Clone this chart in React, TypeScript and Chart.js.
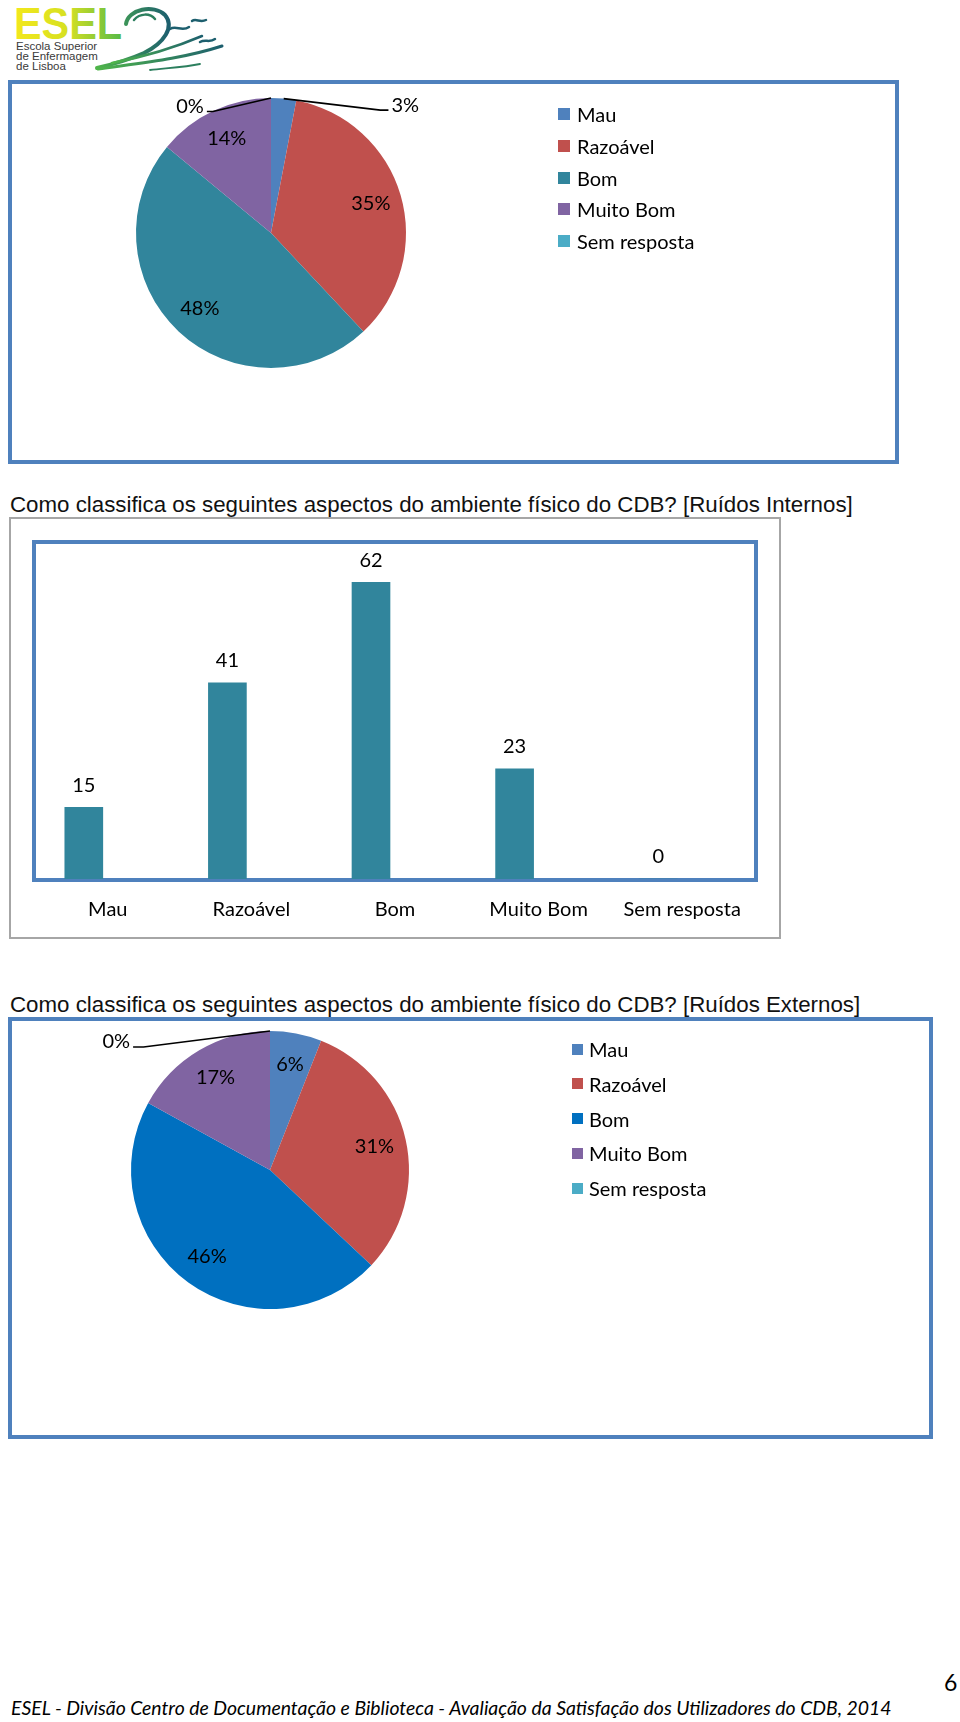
import React, { useEffect, useRef } from "react";
import { Chart, registerables } from "chart.js";

Chart.register(...registerables);

// ---------- data ----------
const categories = ["Mau", "Razoável", "Bom", "Muito Bom", "Sem resposta"];

const pie1Values = [3, 35, 48, 14, 0];
const pie1Colors = ["#4F81BD", "#C0504D", "#31859C", "#8064A2", "#4BACC6"];

const barValues = [15, 41, 62, 23, 0];
const barColor = "#31859C";
const barMax = 70;

const pie2Values = [6, 31, 46, 17, 0];
const pie2Colors = ["#4F81BD", "#C0504D", "#0070C0", "#8064A2", "#4BACC6"];

const heading1 =
  "Como classifica os seguintes aspectos do ambiente físico do CDB? [Ruídos Internos]";
const heading2 =
  "Como classifica os seguintes aspectos do ambiente físico do CDB? [Ruídos Externos]";
const footerText =
  "ESEL - Divisão Centro de Documentação e Biblioteca - Avaliação da Satisfação dos Utilizadores do CDB, 2014";
const pageNumber = "6";

const CAL = "Lato, 'Open Sans', sans-serif";
const ARIAL = "'Liberation Sans', Arial, sans-serif";
const FRAME = "#4F81BD";
const TXT = 20;

// ---------- plugins ----------
const pieLabelPlugin = {
  id: "pieLabels",
  afterDatasetsDraw(chart: any, _args: any, opts: any) {
    const ctx = chart.ctx;
    const meta = chart.getDatasetMeta(0);
    const data = chart.data.datasets[0].data;
    ctx.save();
    ctx.font = opts.font;
    ctx.fillStyle = "#000";
    meta.data.forEach((arc: any, i: number) => {
      const p = arc.getProps(["x", "y", "startAngle", "endAngle", "outerRadius"], true);
      const text = data[i] + "%";
      const mid = (p.startAngle + p.endAngle) / 2;
      const out = opts.outside && opts.outside[i];
      if (out) {
        const ax = p.x + Math.cos(mid) * p.outerRadius;
        const ay = p.y + Math.sin(mid) * p.outerRadius;
        const ex = p.x + out.dx * p.outerRadius;
        const ey = p.y + out.dy * p.outerRadius;
        const hx = p.x + out.hx * p.outerRadius;
        ctx.beginPath();
        ctx.moveTo(ax, ay);
        ctx.lineTo(ex, ey);
        ctx.lineTo(hx, ey);
        ctx.strokeStyle = "#000";
        ctx.lineWidth = 1.6;
        ctx.stroke();
        const left = out.hx < out.dx;
        ctx.textAlign = left ? "right" : "left";
        ctx.textBaseline = "middle";
        ctx.fillText(text, hx + (left ? -3 : 3), ey - 5);
      } else {
        const rr = p.outerRadius * opts.dist;
        ctx.textAlign = "center";
        ctx.textBaseline = "middle";
        ctx.fillText(text, p.x + Math.cos(mid) * rr, p.y + Math.sin(mid) * rr);
      }
    });
    ctx.restore();
  },
};

const barLabelPlugin = {
  id: "barLabels",
  afterDatasetsDraw(chart: any, _args: any, opts: any) {
    const ctx = chart.ctx;
    const meta = chart.getDatasetMeta(0);
    const data = chart.data.datasets[0].data;
    ctx.save();
    ctx.font = opts.font;
    ctx.fillStyle = "#000";
    ctx.textAlign = "center";
    ctx.textBaseline = "middle";
    meta.data.forEach((bar: any, i: number) => {
      ctx.fillText(String(data[i]), bar.x, bar.y - opts.offset);
    });
    ctx.restore();
  },
};

// ---------- components ----------
function PieChart(props: {
  values: number[];
  colors: string[];
  width: number;
  height: number;
  padding: any;
  outside: any;
  style: React.CSSProperties;
}) {
  const ref = useRef<HTMLCanvasElement>(null);
  useEffect(() => {
    const chart = new Chart(ref.current as HTMLCanvasElement, {
      type: "pie",
      data: {
        labels: categories,
        datasets: [{ data: props.values, backgroundColor: props.colors, borderWidth: 0 }],
      },
      options: {
        animation: false,
        responsive: false,
        layout: { padding: props.padding },
        plugins: {
          legend: { display: false },
          tooltip: { enabled: false },
          pieLabels: { font: `${TXT}px ${CAL}`, dist: 0.77, outside: props.outside },
        } as any,
      },
      plugins: [pieLabelPlugin],
    });
    return () => chart.destroy();
  }, []);
  return <canvas ref={ref} width={props.width} height={props.height} style={props.style} />;
}

function BarChart() {
  const ref = useRef<HTMLCanvasElement>(null);
  useEffect(() => {
    const chart = new Chart(ref.current as HTMLCanvasElement, {
      type: "bar",
      data: {
        labels: categories,
        datasets: [{ data: barValues, backgroundColor: barColor, borderWidth: 0, barThickness: 38 }],
      },
      options: {
        animation: false,
        responsive: false,
        layout: { padding: { left: 0, right: 42, top: 0, bottom: 0 } },
        scales: {
          x: {
            grid: { display: false, drawTicks: false },
            border: { display: false },
            ticks: {
              color: "#000",
              font: { family: CAL, size: TXT },
              padding: 19,
              labelOffset: 24,
              maxRotation: 0,
              autoSkip: false,
            },
            afterFit: (scale: any) => {
              scale.height = 50;
            },
          },
          y: { display: false, min: 0, max: barMax },
        },
        plugins: {
          legend: { display: false },
          tooltip: { enabled: false },
          barLabels: { font: `${TXT}px ${CAL}`, offset: 22 },
        } as any,
      },
      plugins: [barLabelPlugin],
    });
    return () => chart.destroy();
  }, []);
  return (
    <canvas
      ref={ref}
      width={760}
      height={385}
      style={{ position: "absolute", left: 12, top: 544 }}
    />
  );
}

function Legend(props: {
  colors: string[];
  left: number;
  top: number;
  spacing: number;
  box: number;
  gap: number;
}) {
  return (
    <div style={{ position: "absolute", left: props.left, top: props.top }}>
      {categories.map((c, i) => (
        <div
          key={c}
          style={{
            position: "absolute",
            left: 0,
            top: i * props.spacing,
            height: 30,
            display: "flex",
            alignItems: "center",
            whiteSpace: "nowrap",
            fontFamily: CAL,
            fontSize: TXT,
            color: "#000",
          }}
        >
          <span
            style={{
              display: "inline-block",
              width: props.box,
              height: props.box,
              background: props.colors[i],
              marginRight: props.gap,
            }}
          />
          {c}
        </div>
      ))}
    </div>
  );
}

function Logo() {
  return (
    <svg width={240} height={76} style={{ position: "absolute", left: 0, top: 0 }}>
      <defs>
        <linearGradient id="eselGrad" x1="0" x2="1" y1="0" y2="0">
          <stop offset="0" stopColor="#F3E81C" />
          <stop offset="0.5" stopColor="#D6E022" />
          <stop offset="1" stopColor="#55BA47" />
        </linearGradient>
        <linearGradient id="waveGrad" x1="0" x2="1" y1="0" y2="0">
          <stop offset="0" stopColor="#4FB54A" />
          <stop offset="1" stopColor="#1D5F6E" />
        </linearGradient>
      </defs>
      <text
        x={14}
        y={39}
        fontFamily={ARIAL}
        fontWeight="bold"
        fontSize={44}
        fill="url(#eselGrad)"
        textLength={108}
        lengthAdjust="spacingAndGlyphs"
      >
        ESEL
      </text>
      <path d="M126,24 C128,9 154,4 165,15 C175,27 164,43 144,53 C126,61 110,65 97,68" fill="none" stroke="url(#waveGrad)" strokeWidth={4} strokeLinecap="round" />
      <path d="M134,20 C140,13 150,13 155,19" fill="none" stroke="#2C7F5E" strokeWidth={2.5} strokeLinecap="round" />
      <path d="M98,69 C140,63 182,59 222,46" fill="none" stroke="url(#waveGrad)" strokeWidth={3} strokeLinecap="round" />
      <path d="M112,63 C148,56 174,48 202,36" fill="none" stroke="url(#waveGrad)" strokeWidth={2.5} strokeLinecap="round" />
      <path d="M170,29 C176,25 182,32 189,27" fill="none" stroke="#1D5F6E" strokeWidth={2.5} strokeLinecap="round" />
      <path d="M192,21 C196,18 200,23 206,20" fill="none" stroke="#1D5F6E" strokeWidth={2.5} strokeLinecap="round" />
      <path d="M200,42 C205,39 210,43 215,39" fill="none" stroke="#1D5F6E" strokeWidth={2.5} strokeLinecap="round" />
      <path d="M150,70 C168,68 186,67 200,64" fill="none" stroke="#2C7F5E" strokeWidth={1.8} strokeLinecap="round" />
      <text x={16} y={50} fontFamily={ARIAL} fontSize={11.5} fill="#3a3a3a">Escola Superior</text>
      <text x={16} y={60} fontFamily={ARIAL} fontSize={11.5} fill="#3a3a3a">de Enfermagem</text>
      <text x={16} y={70} fontFamily={ARIAL} fontSize={11.5} fill="#3a3a3a">de Lisboa</text>
    </svg>
  );
}

export default function App() {
  const headingStyle: React.CSSProperties = {
    position: "absolute",
    left: 10,
    fontFamily: ARIAL,
    fontSize: 22.3,
    lineHeight: "22px",
    whiteSpace: "nowrap",
    color: "#111",
  };
  return (
    <div
      style={{
        position: "absolute",
        left: 0,
        top: 0,
        width: 960,
        height: 1722,
        overflow: "hidden",
        background: "#fff",
      }}
    >
      <Logo />

      {/* Pie 1 */}
      <div
        style={{
          position: "absolute",
          left: 8,
          top: 80,
          width: 883,
          height: 376,
          border: `4px solid ${FRAME}`,
        }}
      />
      <PieChart
        values={pie1Values}
        colors={pie1Colors}
        width={883}
        height={376}
        padding={{ left: 124, top: 14, right: 489, bottom: 92 }}
        outside={{
          0: { dx: 0.81, dy: -0.91, hx: 0.87 },
          4: { dx: -0.43, dy: -0.9, hx: -0.475 },
        }}
        style={{ position: "absolute", left: 12, top: 84 }}
      />
      <Legend colors={pie1Colors} left={558} top={99} spacing={31.8} box={12} gap={7} />

      {/* Heading 1 */}
      <div style={{ ...headingStyle, top: 494 }}>{heading1}</div>

      {/* Bar chart */}
      <div
        style={{
          position: "absolute",
          left: 9,
          top: 517,
          width: 768,
          height: 418,
          border: "2px solid #A6A6A6",
        }}
      />
      <div
        style={{
          position: "absolute",
          left: 32,
          top: 540,
          width: 718,
          height: 334,
          border: `4px solid ${FRAME}`,
        }}
      />
      <BarChart />

      {/* Heading 2 */}
      <div style={{ ...headingStyle, top: 994 }}>{heading2}</div>

      {/* Pie 2 */}
      <div
        style={{
          position: "absolute",
          left: 8,
          top: 1017,
          width: 917,
          height: 414,
          border: `4px solid ${FRAME}`,
        }}
      />
      <PieChart
        values={pie2Values}
        colors={pie2Colors}
        width={917}
        height={414}
        padding={{ left: 119, top: 10, right: 520, bottom: 126 }}
        outside={{
          4: { dx: -0.91, dy: -0.885, hx: -0.985 },
        }}
        style={{ position: "absolute", left: 12, top: 1021 }}
      />
      <Legend colors={pie2Colors} left={572} top={1034} spacing={34.75} box={11} gap={6} />

      {/* Page number & footer */}
      <div
        style={{
          position: "absolute",
          left: 944,
          top: 1669,
          fontFamily: CAL,
          fontSize: 23,
          lineHeight: "26px",
          color: "#000",
        }}
      >
        {pageNumber}
      </div>
      <div
        style={{
          position: "absolute",
          left: 11,
          top: 1696,
          fontFamily: CAL,
          fontStyle: "italic",
          fontSize: 19.4,
          lineHeight: "24px",
          whiteSpace: "nowrap",
          color: "#000",
        }}
      >
        {footerText}
      </div>
    </div>
  );
}
